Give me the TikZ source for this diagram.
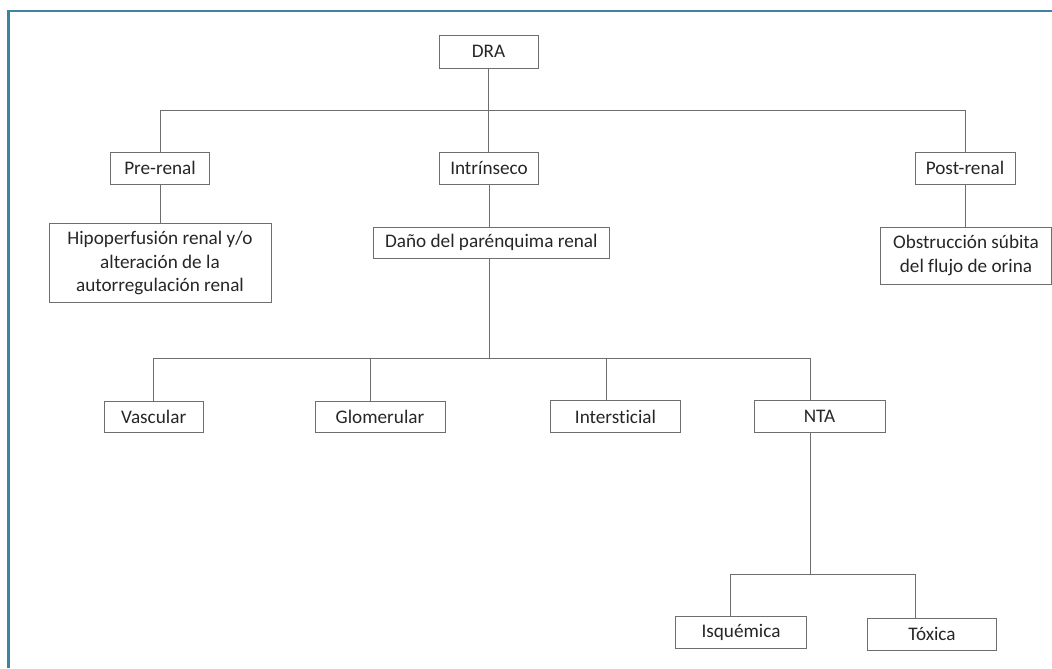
\documentclass[tikz,border=0pt]{standalone}
\usepackage{fontspec}
\setmainfont[Ligatures=NoCommon]{Carlito}
\usepackage{xcolor}
\definecolor{framecol}{RGB}{60,132,160}
\definecolor{linecol}{RGB}{110,110,110}

\begin{document}
\begin{tikzpicture}[x=0.75pt,y=0.75pt,yscale=-1,xscale=1,
  box/.style={draw=linecol, line width=0.75pt, inner sep=0pt, align=center, text=black!85,
    font=\fontsize{14.4}{17.6}\selectfont},
  link/.style={draw=linecol, line width=0.75pt}]
\useasboundingbox (0,0) rectangle (1052,668);

%Frame
\draw [framecol, line width=1.9pt] (8.5,668) -- (8.5,11) -- (1052,11) ;

%Boxes, first level
\node [box, minimum width=74.25pt, minimum height=24.75pt] (dra) at (488.5,51.5) {DRA};
\node [box, minimum width=74.25pt, minimum height=24pt] (prerenal) at (160,168.3) {Pre-renal};
\node [box, minimum width=74.25pt, minimum height=24pt] (intrinseco) at (489,168.5) {Intrínseco};
\node [box, minimum width=75pt, minimum height=24pt] (postrenal) at (965,168.3) {Post-renal};
%Boxes, second level
\node [box, minimum width=166.5pt, minimum height=59.25pt] (hipo) at (160,263) {Hipoperfusión renal y/o\\alteración de la\\autorregulación renal};
\node [box, minimum width=177pt, minimum height=23.25pt] (dano) at (491.3,242.7) {Daño del parénquima renal};
\node [box, minimum width=128.25pt, minimum height=42.75pt] (obstruccion) at (966,255.7) {Obstrucción súbita\\del flujo de orina};
%Boxes, third level
\node [box, minimum width=74.25pt, minimum height=23.25pt] (vascular) at (153.7,417.2) {Vascular};
\node [box, minimum width=97.5pt, minimum height=23.25pt] (glomerular) at (380,417.2) {Glomerular};
\node [box, minimum width=97.5pt, minimum height=24pt] (intersticial) at (615.5,416.5) {Intersticial};
\node [box, minimum width=98.25pt, minimum height=24pt] (nta) at (819.5,416.5) {NTA};
%Boxes, fourth level
\node [box, minimum width=98.25pt, minimum height=24pt] (isquemica) at (741,632.5) {Isquémica};
\node [box, minimum width=96.75pt, minimum height=24pt] (toxica) at (932,634) {Tóxica};

%Bus points
\coordinate (b1) at (488.5,110) ;
\coordinate (b1l) at (160,110) ;
\coordinate (b1r) at (965,110) ;
\coordinate (b2) at (489,358.3) ;
\coordinate (b2l) at (153.7,358.3) ;
\coordinate (b2g) at (370.7,358.3) ;
\coordinate (b2i) at (606.7,358.3) ;
\coordinate (b2r) at (810,358.3) ;
\coordinate (b3) at (810,574.3) ;
\coordinate (b3l) at (730,574.3) ;
\coordinate (b3r) at (915.7,574.3) ;

%Connectors
\draw [link] (dra.south) -- (b1) ;
\draw [link] (b1l) -- (b1r) ;
\draw [link] (b1l) -- (prerenal.north) ;
\draw [link] (b1) -- (b1 |- intrinseco.north) ;
\draw [link] (b1r) -- (postrenal.north) ;
\draw [link] (prerenal.south) -- (hipo.north -| prerenal.south) ;
\draw [link] (intrinseco.south) -- (intrinseco.south |- dano.north) ;
\draw [link] (postrenal.south) -- (postrenal.south |- obstruccion.north) ;
\draw [link] (dano.south -| b2) -- (b2) ;
\draw [link] (b2l) -- (b2r) ;
\draw [link] (b2l) -- (vascular.north) ;
\draw [link] (b2g) -- (b2g |- glomerular.north) ;
\draw [link] (b2i) -- (b2i |- intersticial.north) ;
\draw [link] (b2r) -- (b2r |- nta.north) ;
\draw [link] (nta.south -| b3) -- (b3) ;
\draw [link] (b3l) -- (b3r) ;
\draw [link] (b3l) -- (b3l |- isquemica.north) ;
\draw [link] (b3r) -- (b3r |- toxica.north) ;

\end{tikzpicture}
\end{document}
